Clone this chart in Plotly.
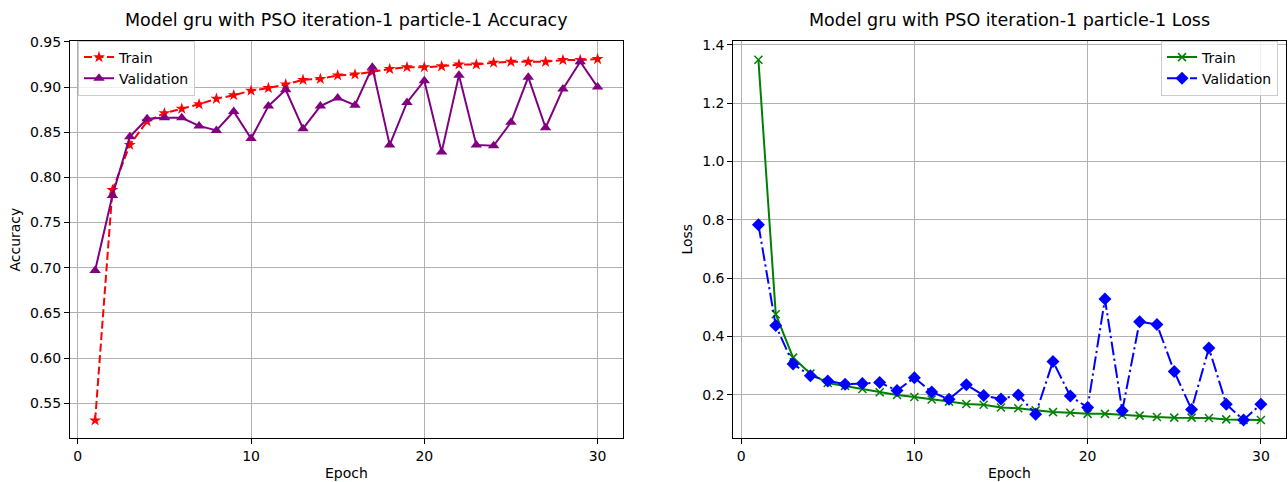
import plotly.graph_objects as go

epochs = list(range(1, 31))

train_acc = [0.531, 0.786, 0.836, 0.862, 0.871, 0.876, 0.881, 0.887, 0.891, 0.896,
             0.899, 0.903, 0.908, 0.909, 0.913, 0.914, 0.917, 0.920, 0.922, 0.922,
             0.923, 0.925, 0.925, 0.927, 0.928, 0.928, 0.928, 0.930, 0.930, 0.931]
val_acc = [0.697, 0.780, 0.845, 0.865, 0.866, 0.866, 0.857, 0.852, 0.873, 0.843,
           0.879, 0.897, 0.854, 0.879, 0.888, 0.880, 0.922, 0.836, 0.883, 0.907,
           0.828, 0.913, 0.836, 0.835, 0.861, 0.911, 0.855, 0.898, 0.928, 0.900]
train_loss = [1.349, 0.476, 0.327, 0.272, 0.240, 0.230, 0.219, 0.208, 0.199, 0.192,
              0.183, 0.176, 0.168, 0.165, 0.156, 0.153, 0.146, 0.140, 0.138, 0.134,
              0.134, 0.130, 0.128, 0.123, 0.121, 0.121, 0.120, 0.115, 0.113, 0.113]
val_loss = [0.783, 0.437, 0.305, 0.265, 0.247, 0.236, 0.238, 0.242, 0.214, 0.258,
            0.209, 0.184, 0.234, 0.197, 0.185, 0.199, 0.133, 0.314, 0.195, 0.156,
            0.528, 0.145, 0.450, 0.441, 0.279, 0.149, 0.360, 0.167, 0.113, 0.167]

acc_ticks = [0.55, 0.60, 0.65, 0.70, 0.75, 0.80, 0.85, 0.90, 0.95]
loss_ticks = [0.2, 0.4, 0.6, 0.8, 1.0, 1.2, 1.4]
epoch_ticks = [0, 10, 20, 30]

title_acc = "Model gru with PSO iteration-1 particle-1 Accuracy"
title_loss = "Model gru with PSO iteration-1 particle-1 Loss"

W, H = 1288, 482
FONT = "DejaVu Sans"

fig = go.Figure()

fig.add_trace(go.Scatter(
    x=epochs, y=train_acc, name="Train", mode="lines+markers",
    line=dict(color="red", width=2, dash="8px,3.5px"),
    marker=dict(symbol="star", size=9, color="red"),
    xaxis="x", yaxis="y", legend="legend"))
fig.add_trace(go.Scatter(
    x=epochs, y=val_acc, name="Validation", mode="lines+markers",
    line=dict(color="purple", width=2),
    marker=dict(symbol="triangle-up", size=10, color="purple"),
    xaxis="x", yaxis="y", legend="legend"))
fig.add_trace(go.Scatter(
    x=epochs, y=train_loss, name="Train", mode="lines+markers",
    line=dict(color="green", width=2),
    marker=dict(symbol="x-thin", size=8, color="green",
                line=dict(color="green", width=1.5)),
    xaxis="x2", yaxis="y2", legend="legend2"))
fig.add_trace(go.Scatter(
    x=epochs, y=val_loss, name="Validation", mode="lines+markers",
    line=dict(color="blue", width=2, dash="13.8px,3.5px,2.2px,3.5px"),
    marker=dict(symbol="diamond", size=10, color="blue"),
    xaxis="x2", yaxis="y2", legend="legend2"))

yb = (H - 437.3) / H
yt = (H - 34.5) / H

common_axis = dict(
    showline=True, mirror=True, linecolor="black", linewidth=1,
    ticks="outside", ticklen=5, tickwidth=1, tickcolor="black",
    showgrid=True, gridcolor="#b0b0b0", gridwidth=1, zeroline=False,
    tickfont=dict(family=FONT, size=14, color="black"),
)

fig.update_layout(
    width=W, height=H,
    margin=dict(l=0, r=0, t=0, b=0),
    paper_bgcolor="white", plot_bgcolor="white",
    font=dict(family=FONT, color="black"),
    xaxis=dict(domain=[70 / W, 622.7 / W], range=[-0.45, 31.45],
               tickvals=epoch_ticks, anchor="y", **common_axis),
    yaxis=dict(domain=[yb, yt], range=[0.5116, 0.951],
               tickvals=acc_ticks, tickformat=".2f", anchor="x", **common_axis),
    xaxis2=dict(domain=[733.3 / W, 1286 / W], range=[-0.45, 31.45],
                tickvals=epoch_ticks, anchor="y2", **common_axis),
    yaxis2=dict(domain=[yb, yt], range=[0.0513, 1.4135],
                tickvals=loss_ticks, tickformat=".1f", anchor="x2", **common_axis),
    legend=dict(x=78 / W, y=1 - 34 / H, xanchor="left", yanchor="top",
                bgcolor="rgba(255,255,255,0.8)", bordercolor="#cccccc",
                borderwidth=1, font=dict(family=FONT, size=14, color="black")),
    legend2=dict(x=1278 / W, y=1 - 34 / H, xanchor="right", yanchor="top",
                 bgcolor="rgba(255,255,255,0.8)", bordercolor="#cccccc",
                 borderwidth=1, font=dict(family=FONT, size=14, color="black")),
)

ann = []
ann.append(dict(text=title_acc, x=(70 + 622.7) / 2 / W, y=1 - 13 / H,
                xref="paper", yref="paper", showarrow=False,
                font=dict(family=FONT, size=17.5, color="black"),
                xanchor="center", yanchor="middle"))
ann.append(dict(text=title_loss, x=(733.3 + 1286) / 2 / W, y=1 - 13 / H,
                xref="paper", yref="paper", showarrow=False,
                font=dict(family=FONT, size=17.5, color="black"),
                xanchor="center", yanchor="middle"))
ann.append(dict(text="Epoch", x=(70 + 622.7) / 2 / W, y=1 - 473 / H,
                xref="paper", yref="paper", showarrow=False,
                font=dict(family=FONT, size=14, color="black"),
                xanchor="center", yanchor="middle"))
ann.append(dict(text="Epoch", x=(733.3 + 1286) / 2 / W, y=1 - 473 / H,
                xref="paper", yref="paper", showarrow=False,
                font=dict(family=FONT, size=14, color="black"),
                xanchor="center", yanchor="middle"))
ann.append(dict(text="Accuracy", x=15 / W, y=1 - 236 / H, textangle=-90,
                xref="paper", yref="paper", showarrow=False,
                font=dict(family=FONT, size=14, color="black"),
                xanchor="center", yanchor="middle"))
ann.append(dict(text="Loss", x=687 / W, y=1 - 236 / H, textangle=-90,
                xref="paper", yref="paper", showarrow=False,
                font=dict(family=FONT, size=14, color="black"),
                xanchor="center", yanchor="middle"))
fig.update_layout(annotations=ann)

fig.write_html(
    "out.html",
    config={"displayModeBar": False},
    post_script="document.body.style.margin='0';document.body.style.overflow='hidden';",
)
